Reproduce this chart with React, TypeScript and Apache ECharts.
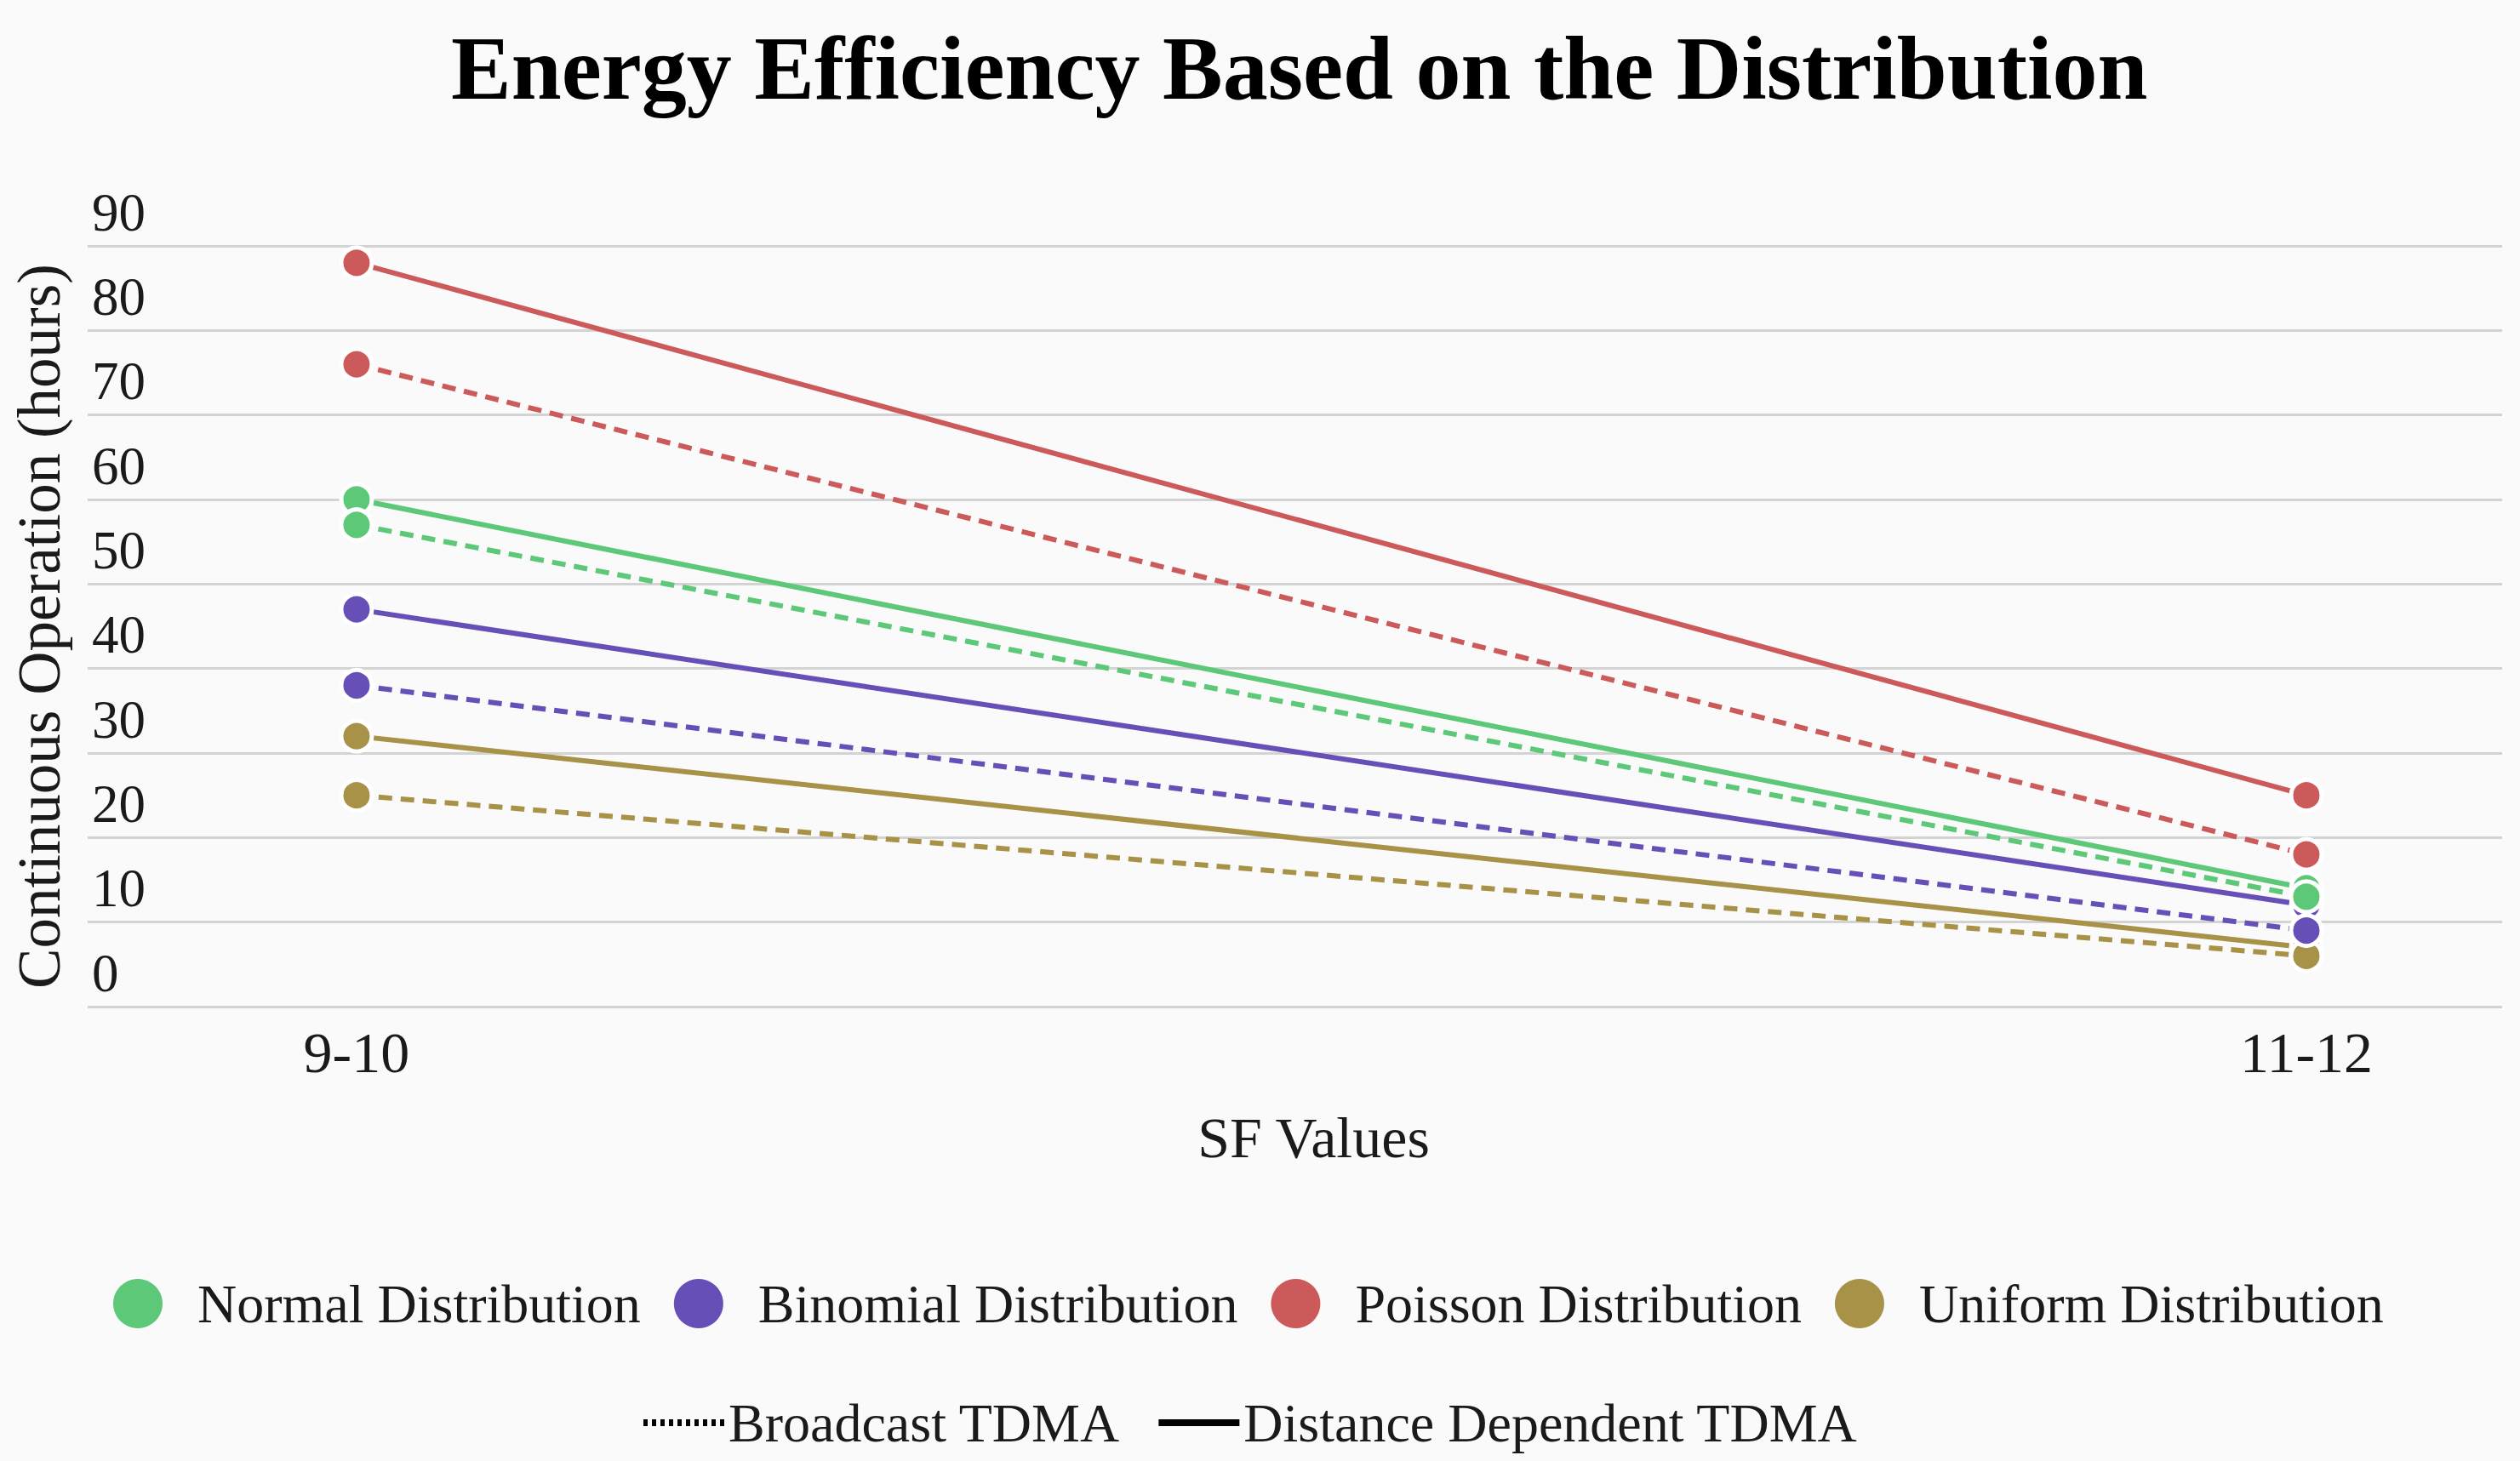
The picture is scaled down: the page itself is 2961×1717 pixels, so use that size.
import React, { useEffect, useRef } from "react";
import * as echarts from "echarts";

const categories = ["9-10", "11-12"];
const distributions = [
  "Normal Distribution",
  "Binomial Distribution",
  "Poisson Distribution",
  "Uniform Distribution",
];
const lineTypes = ["Broadcast TDMA", "Distance Dependent TDMA"];
const colors = ["#5cc878", "#6650b8", "#cc5a5a", "#a89248"];

// Distance Dependent TDMA (solid) and Broadcast TDMA (dashed)
const normalDistance = [60, 14];
const normalBroadcast = [57, 13];
const binomialDistance = [47, 12];
const binomialBroadcast = [38, 9];
const poissonDistance = [88, 25];
const poissonBroadcast = [76, 18];
const uniformDistance = [32, 7];
const uniformBroadcast = [25, 6];

const yMin = 0;
const yMax = 90;
const yStep = 10;

const FONT = "'Liberation Serif', 'Times New Roman', Times, serif";
const TEXT = "#1a1a1a";

const DOTTED_ICON =
  "path://M0,0h5v8h-5z M10,0h5v8h-5z M20,0h5v8h-5z M30,0h5v8h-5z M40,0h5v8h-5z M50,0h5v8h-5z M60,0h5v8h-5z M70,0h5v8h-5z M80,0h5v8h-5z M90,0h5v8h-5z";
const SOLID_ICON = "path://M0,0h95v8h-95z";

export default function App() {
  const ref = useRef<HTMLDivElement>(null);

  useEffect(() => {
    if (!ref.current) return;
    const chart = echarts.init(ref.current, undefined, { renderer: "svg" });

    const groups = [
      { name: distributions[3], color: colors[3], solid: uniformDistance, dashed: uniformBroadcast },
      { name: distributions[2], color: colors[2], solid: poissonDistance, dashed: poissonBroadcast },
      { name: distributions[1], color: colors[1], solid: binomialDistance, dashed: binomialBroadcast },
      { name: distributions[0], color: colors[0], solid: normalDistance, dashed: normalBroadcast },
    ];

    const mk = (name: string, color: string, vals: number[], dashed: boolean) => ({
      name,
      type: "line",
      data: vals.map((v, i) => [i, v]),
      symbol: "circle",
      symbolSize: 36,
      color,
      lineStyle: { color, width: 6, type: dashed ? [16, 10] : "solid" },
      itemStyle: { color, borderColor: "#ffffff", borderWidth: 5 },
      emphasis: { disabled: true },
    });

    const series: any[] = [];
    groups.forEach((g) => {
      series.push(mk(g.name, g.color, g.solid, false));
      series.push(mk(g.name, g.color, g.dashed, true));
    });
    series.push({
      name: lineTypes[0],
      type: "line",
      data: [],
      symbol: "none",
      color: "#000",
      lineStyle: { color: "#000", width: 8, type: [5, 5] },
    });
    series.push({
      name: lineTypes[1],
      type: "line",
      data: [],
      symbol: "none",
      color: "#000",
      lineStyle: { color: "#000", width: 8, type: "solid" },
    });

    chart.setOption({
      animation: false,
      backgroundColor: "#fafafa",
      title: {
        text: "Energy Efficiency Based on the Distribution",
        left: 525,
        top: 22,
        textStyle: { fontFamily: FONT, fontSize: 106, fontWeight: "bold", color: "#000" },
      },
      grid: {
        left: 103,
        right: 21,
        top: 289,
        bottom: 534,
        containLabel: false,
        outerBoundsMode: "none",
      },
      legend: [
        {
          data: distributions,
          left: 128,
          top: 1495,
          icon: "circle",
          itemWidth: 58,
          itemHeight: 58,
          itemGap: 39,
          itemStyle: { borderWidth: 0 },
          textStyle: { fontFamily: FONT, fontSize: 64, color: TEXT, padding: [0, 0, 0, 36] },
        },
        {
          data: [
            { name: lineTypes[0], icon: DOTTED_ICON },
            { name: lineTypes[1], icon: SOLID_ICON },
          ],
          left: 751,
          top: 1635,
          itemWidth: 95,
          itemHeight: 8,
          itemGap: 45,
          selectedMode: false,
          itemStyle: { color: "#000", borderWidth: 0 },
          textStyle: { fontFamily: FONT, fontSize: 64, color: TEXT },
        },
      ],
      xAxis: {
        type: "value",
        min: -0.1379,
        max: 1.1004,
        name: "SF Values",
        nameLocation: "middle",
        nameGap: 120,
        nameTextStyle: { fontFamily: FONT, fontSize: 68, color: TEXT, padding: [0, 0, 0, 44] },
        axisLine: { show: false },
        axisTick: { show: false },
        splitLine: { show: false },
        axisLabel: {
          customValues: categories.map((_, i) => i),
          formatter: (v: number) => categories[Math.round(v)] ?? "",
          fontFamily: FONT,
          fontSize: 68,
          color: TEXT,
          margin: 20,
        },
      },
      yAxis: {
        type: "value",
        min: yMin,
        max: yMax,
        interval: yStep,
        name: "Continuous Operation (hours)",
        nameLocation: "middle",
        nameGap: 22,
        nameTextStyle: { fontFamily: FONT, fontSize: 71, color: TEXT },
        axisLine: { show: false },
        axisTick: { show: false },
        axisLabel: {
          inside: true,
          margin: 5,
          verticalAlign: "bottom",
          padding: [0, 0, 8, 0],
          fontFamily: FONT,
          fontSize: 63,
          color: TEXT,
        },
        splitLine: { lineStyle: { color: "#d3d3d3", width: 3 } },
      },
      series,
    });

    return () => chart.dispose();
  }, []);

  return (
    <div
      ref={ref}
      style={{ position: "fixed", left: 0, top: 0, width: 2961, height: 1717 }}
    />
  );
}
